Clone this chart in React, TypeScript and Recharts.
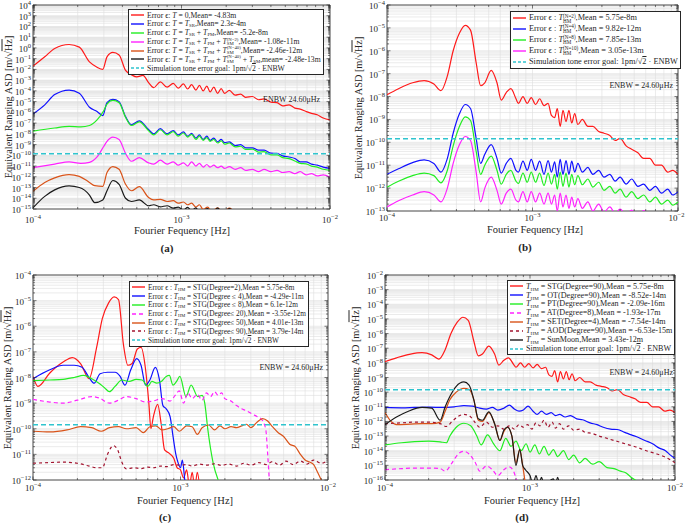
import React from "react";
import {
  LineChart,
  Line,
  XAxis,
  YAxis,
  CartesianGrid,
  ReferenceLine,
  ReferenceArea,
} from "recharts";

type Pt = [number, number];

const FONT = "'Liberation Serif', 'DejaVu Serif', serif";
const INK = "#262626";
const GOAL = 1.43e-10; // 1pm / sqrt(2 * ENBW)

const C_RED = "#ff1a1a";
const C_BLUE = "#1010ff";
const C_GREEN = "#22ee22";
const C_MAG = "#ff22ff";
const C_ORANGE = "#d95319";
const C_BROWN = "#a2142f";
const C_BLACK = "#1a1a1a";
const C_CYAN = "#2fc4ce";

// ---------- panel (a) ----------
const aRed: Pt[] = [
  [1.0e-4, 2e-2], [1.2e-4, 1.5e-1], [1.4e-4, 9e-1], [1.75e-4, 2.1], [2.05e-4, 1.2],
  [2.4e-4, 5e-2], [2.7e-4, 1.6e-2], [2.95e-4, 1.0e-2], [3.15e-4, 1.5e-1], [3.45e-4, 3.8e-1],
  [3.8e-4, 2.2e-1], [4.2e-4, 8e-3], [4.6e-4, 3.2e-3], [5.0e-4, 2.0e-3], [5.5e-4, 2.8e-3],
  [6.0e-4, 6e-4], [6.5e-4, 2.0e-4], [7.2e-4, 7e-4], [8.0e-4, 2.2e-4], [8.8e-4, 5.0e-4],
  [9.5e-4, 1.8e-4], [1.03e-3, 4.5e-4], [1.1e-3, 1.5e-4], [1.17e-3, 3.8e-4], [1.25e-3, 1.2e-4],
  [1.32e-3, 3.2e-4], [1.4e-3, 1.0e-4], [1.48e-3, 2.8e-4], [1.56e-3, 8e-5], [1.65e-3, 2.2e-4],
  [1.75e-3, 6e-5], [1.85e-3, 1.6e-4], [1.95e-3, 6e-5], [2.1e-3, 1.1e-4], [2.3e-3, 4e-5],
  [2.5e-3, 5e-5], [2.7e-3, 2.5e-5], [3.0e-3, 3e-5], [3.3e-3, 1.5e-5], [3.6e-3, 1.8e-5],
  [4.0e-3, 9e-6], [4.4e-3, 8e-6], [4.8e-3, 4e-6], [5.3e-3, 5e-6], [5.8e-3, 2.5e-6],
  [6.3e-3, 2e-6], [6.9e-3, 1.2e-6], [7.5e-3, 8e-7], [8.2e-3, 6e-7], [9.0e-3, 3e-7], [1.0e-2, 2e-7],
];
const aBlue: Pt[] = [
  [1.0e-4, 7e-7], [1.2e-4, 5e-6], [1.4e-4, 4.5e-5], [1.75e-4, 1.2e-4], [2.05e-4, 6e-5],
  [2.4e-4, 3e-6], [2.7e-4, 1.2e-6], [2.95e-4, 5e-7], [3.15e-4, 8e-6], [3.45e-4, 1.6e-5],
  [3.8e-4, 1.0e-5], [4.2e-4, 4e-7], [4.6e-4, 7e-8], [5.2e-4, 1.6e-7], [6.0e-4, 2.5e-8],
  [6.5e-4, 1e-8], [7.2e-4, 3e-8], [8.0e-4, 1e-8], [8.8e-4, 2e-8], [9.5e-4, 8e-9],
  [1.03e-3, 1.5e-8], [1.1e-3, 6e-9], [1.17e-3, 1.1e-8], [1.25e-3, 4e-9], [1.32e-3, 8e-9],
  [1.4e-3, 3e-9], [1.48e-3, 6e-9], [1.56e-3, 2.5e-9], [1.65e-3, 4e-9], [1.75e-3, 1.8e-9],
  [1.85e-3, 3e-9], [1.95e-3, 1.5e-9], [2.1e-3, 1.8e-9], [2.3e-3, 8e-10], [2.5e-3, 1e-9],
  [2.7e-3, 5e-10], [3.0e-3, 5e-10], [3.3e-3, 3e-10], [3.6e-3, 3e-10], [4.0e-3, 1.6e-10],
  [4.4e-3, 1.5e-10], [4.8e-3, 9e-11], [5.3e-3, 7e-11], [5.8e-3, 5e-11], [6.3e-3, 2.5e-11],
  [6.9e-3, 2.5e-11], [7.5e-3, 1.5e-11], [8.2e-3, 1.2e-11], [9.0e-3, 8e-12], [1.0e-2, 6e-12],
];
const aGreen: Pt[] = [
  [1.0e-4, 1.8e-8], [1.4e-4, 3.5e-8], [1.75e-4, 5e-8], [2.1e-4, 4.5e-8], [2.4e-4, 6e-8],
  [2.7e-4, 2e-7], [3.0e-4, 1.5e-6], [3.15e-4, 6e-6], [3.45e-4, 1.3e-5], [3.8e-4, 8e-6],
  [4.2e-4, 3.5e-7], [4.6e-4, 6e-8], [5.2e-4, 1.3e-7], [6.0e-4, 2e-8], [6.5e-4, 8e-9],
  [7.2e-4, 2.4e-8], [8.0e-4, 8e-9], [8.8e-4, 1.6e-8], [9.5e-4, 6e-9], [1.03e-3, 1.2e-8],
  [1.1e-3, 5e-9], [1.17e-3, 9e-9], [1.25e-3, 3e-9], [1.32e-3, 6e-9], [1.4e-3, 2.5e-9],
  [1.48e-3, 4.5e-9], [1.56e-3, 2e-9], [1.65e-3, 3e-9], [1.75e-3, 1.4e-9], [1.85e-3, 2.2e-9],
  [1.95e-3, 1.1e-9], [2.1e-3, 1.4e-9], [2.3e-3, 6e-10], [2.5e-3, 7e-10], [2.7e-3, 3.5e-10],
  [3.0e-3, 3.8e-10], [3.3e-3, 2e-10], [3.6e-3, 2.2e-10], [4.0e-3, 1.1e-10], [4.4e-3, 1.1e-10],
  [4.8e-3, 6e-11], [5.3e-3, 5e-11], [5.8e-3, 3e-11], [6.3e-3, 1.8e-11], [6.9e-3, 1.6e-11],
  [7.5e-3, 1e-11], [8.2e-3, 8e-12], [9.0e-3, 5e-12], [1.0e-2, 4e-12],
];
const aMagenta: Pt[] = [
  [1.0e-4, 7e-12], [1.4e-4, 1.5e-11], [1.75e-4, 2.5e-11], [2.1e-4, 1.8e-11], [2.4e-4, 2.2e-11],
  [2.7e-4, 7e-11], [3.0e-4, 7e-10], [3.15e-4, 2e-9], [3.45e-4, 5e-9], [3.8e-4, 3e-9],
  [4.2e-4, 1.5e-10], [4.6e-4, 2.8e-11], [5.2e-4, 6e-11], [6.0e-4, 2e-11], [6.5e-4, 1.5e-11],
  [7.2e-4, 3.5e-11], [8.0e-4, 1.5e-11], [8.8e-4, 2.5e-11], [9.5e-4, 1.2e-11], [1.03e-3, 2e-11],
  [1.1e-3, 1e-11], [1.17e-3, 2.5e-11], [1.25e-3, 1e-11], [1.32e-3, 1.8e-11], [1.4e-3, 8e-12],
  [1.48e-3, 1.4e-11], [1.56e-3, 8e-12], [1.65e-3, 1.2e-11], [1.75e-3, 7e-12], [1.85e-3, 1e-11],
  [1.95e-3, 6e-12], [2.1e-3, 9e-12], [2.3e-3, 5e-12], [2.5e-3, 7e-12], [2.7e-3, 4e-12],
  [3.0e-3, 5e-12], [3.3e-3, 3e-12], [3.6e-3, 5e-12], [4.0e-3, 3e-12], [4.4e-3, 4e-12],
  [4.8e-3, 2.5e-12], [5.3e-3, 3e-12], [5.8e-3, 2e-12], [6.3e-3, 3e-12], [6.9e-3, 1.5e-12],
  [7.5e-3, 2e-12], [8.2e-3, 1.2e-12], [9.0e-3, 1.5e-12], [1.0e-2, 9e-13],
];
const aOrange: Pt[] = [
  [1.0e-4, 4.5e-14], [1.2e-4, 3e-13], [1.4e-4, 8e-13], [1.75e-4, 1.6e-12], [2.05e-4, 1.1e-12],
  [2.4e-4, 3e-13], [2.6e-4, 1.5e-13], [2.95e-4, 1.3e-13], [3.15e-4, 2.5e-12], [3.45e-4, 9e-12],
  [3.8e-4, 5e-12], [4.2e-4, 2e-13], [4.6e-4, 5e-14], [5.2e-4, 1.2e-13], [6.0e-4, 1.2e-14],
  [6.5e-4, 7e-15], [7.2e-4, 8e-15], [8.0e-4, 5e-15], [8.8e-4, 6e-15], [9.5e-4, 3.5e-15],
  [1.03e-3, 4.5e-15], [1.1e-3, 2.5e-15], [1.17e-3, 3.5e-15], [1.25e-3, 1.5e-15], [1.32e-3, 2.5e-15],
  [1.4e-3, 9e-16], [1.5e-3, 1.5e-15], [1.6e-3, 6e-16], [1.75e-3, 1.3e-15], [1.9e-3, 5e-16],
  [2.1e-3, 1.2e-15], [2.3e-3, 4e-16],
];
const aBlack: Pt[] = [
  [1.0e-4, 1.3e-15], [1.2e-4, 1.5e-14], [1.4e-4, 6e-14], [1.75e-4, 1.4e-13], [2.05e-4, 1e-13],
  [2.4e-4, 2e-14], [2.6e-4, 4e-15], [2.95e-4, 7e-15], [3.15e-4, 5e-14], [3.45e-4, 4.5e-13],
  [3.8e-4, 2e-13], [4.2e-4, 1e-14], [4.6e-4, 5e-15], [5.2e-4, 7e-15], [6.0e-4, 2e-15],
  [6.5e-4, 2.5e-15], [7.2e-4, 1.6e-15], [8.0e-4, 2e-15], [8.8e-4, 1.2e-15], [9.5e-4, 1.5e-15],
  [1.03e-3, 8e-16], [1.1e-3, 1.4e-15], [1.17e-3, 7e-16], [1.25e-3, 1.3e-15], [1.32e-3, 5e-16],
  [1.5e-3, 1.1e-15], [1.6e-3, 4e-16], [1.75e-3, 1.2e-15], [1.9e-3, 4e-16], [2.1e-3, 1.1e-15],
  [2.3e-3, 4e-16],
];

// ---------- panel (b) ----------
const hmRed: Pt[] = [
  [1.0e-4, 1.2e-8], [1.2e-4, 2.2e-8], [1.5e-4, 4e-8], [1.8e-4, 5e-8], [2.1e-4, 3.5e-8],
  [2.35e-4, 1.8e-8], [2.6e-4, 8e-8], [2.85e-4, 1e-6], [3.15e-4, 6e-6], [3.45e-4, 1.3e-5],
  [3.75e-4, 8e-6], [4.1e-4, 3e-7], [4.4e-4, 3e-8], [4.7e-4, 4e-8], [5.2e-4, 1.4e-7],
  [5.7e-4, 4e-8], [6.1e-4, 7e-9], [6.6e-4, 1.5e-8], [7.1e-4, 2.2e-8], [7.7e-4, 8e-9],
  [8.0e-4, 5e-9], [8.6e-4, 1e-8], [9.2e-4, 5e-9], [9.8e-4, 9e-9], [1.05e-3, 4.5e-9],
  [1.12e-3, 8e-9], [1.2e-3, 4e-9], [1.28e-3, 5e-9], [1.35e-3, 1.5e-9], [1.42e-3, 1.2e-9],
  [1.48e-3, 3e-9], [1.55e-3, 5e-10], [1.62e-3, 2.5e-9], [1.7e-3, 8e-10], [1.78e-3, 2.5e-9],
  [1.86e-3, 7e-10], [1.95e-3, 1.8e-9], [2.05e-3, 6e-10], [2.2e-3, 1e-9], [2.4e-3, 5e-10],
  [2.6e-3, 5e-10], [2.85e-3, 3e-10], [3.1e-3, 2.5e-10], [3.4e-3, 2e-10], [3.7e-3, 1.2e-10],
  [4.0e-3, 1.5e-10], [4.4e-3, 7e-11], [4.8e-3, 5e-11], [5.3e-3, 3.5e-11], [5.8e-3, 2e-11],
  [6.4e-3, 2e-11], [7.0e-3, 1e-11], [7.7e-3, 1e-11], [8.5e-3, 5e-12], [9.2e-3, 6e-12],
  [1.0e-2, 4e-12],
];
const bBlue: Pt[] = [
  [1.0e-4, 4e-12], [1.2e-4, 7e-12], [1.5e-4, 1.3e-11], [1.8e-4, 1.7e-11], [2.1e-4, 1.2e-11],
  [2.35e-4, 5e-12], [2.6e-4, 2e-11], [2.85e-4, 2.5e-10], [3.15e-4, 1.8e-9], [3.45e-4, 4.5e-9],
  [3.75e-4, 3e-9], [4.1e-4, 1.5e-10], [4.4e-4, 1.2e-11], [4.7e-4, 3e-11], [5.2e-4, 8e-11],
  [5.7e-4, 2e-11], [6.1e-4, 4.5e-12], [6.6e-4, 1.2e-11], [7.1e-4, 2e-11], [7.7e-4, 6e-12],
  [8.0e-4, 5e-12], [8.6e-4, 1.5e-11], [9.2e-4, 6e-12], [9.8e-4, 1.8e-11], [1.05e-3, 6e-12],
  [1.12e-3, 1.5e-11], [1.2e-3, 4e-12], [1.28e-3, 1.6e-11], [1.35e-3, 5e-12], [1.42e-3, 1.4e-11],
  [1.48e-3, 3e-12], [1.55e-3, 1.8e-11], [1.62e-3, 4e-12], [1.7e-3, 1.6e-11], [1.78e-3, 4e-12],
  [1.86e-3, 1.5e-11], [1.95e-3, 5e-12], [2.05e-3, 1.2e-11], [2.2e-3, 5e-12], [2.4e-3, 8e-12],
  [2.6e-3, 4e-12], [2.85e-3, 6e-12], [3.1e-3, 3e-12], [3.4e-3, 4e-12], [3.7e-3, 2e-12],
  [4.0e-3, 3e-12], [4.4e-3, 1.5e-12], [4.8e-3, 2.5e-12], [5.3e-3, 1.2e-12], [5.8e-3, 1.5e-12],
  [6.4e-3, 8e-13], [7.0e-3, 1.2e-12], [7.7e-3, 6e-13], [8.5e-3, 9e-13], [9.2e-3, 5e-13],
  [1.0e-2, 7e-13],
];
const bGreen: Pt[] = [
  [1.0e-4, 1.1e-12], [1.2e-4, 2e-12], [1.5e-4, 3.5e-12], [1.8e-4, 4.5e-12], [2.1e-4, 3.5e-12],
  [2.35e-4, 1.7e-12], [2.6e-4, 6e-12], [2.85e-4, 7e-11], [3.15e-4, 5e-10], [3.45e-4, 1.3e-9],
  [3.75e-4, 9e-10], [4.1e-4, 4e-11], [4.4e-4, 4e-12], [4.7e-4, 1e-11], [5.2e-4, 2.5e-11],
  [5.7e-4, 6e-12], [6.1e-4, 1.5e-12], [6.6e-4, 4e-12], [7.1e-4, 6e-12], [7.7e-4, 2e-12],
  [8.0e-4, 1.6e-12], [8.6e-4, 4.5e-12], [9.2e-4, 1.8e-12], [9.8e-4, 5e-12], [1.05e-3, 1.8e-12],
  [1.12e-3, 4.5e-12], [1.2e-3, 1.3e-12], [1.28e-3, 4.5e-12], [1.35e-3, 1.5e-12], [1.42e-3, 4e-12],
  [1.48e-3, 9e-13], [1.55e-3, 5e-12], [1.62e-3, 1.2e-12], [1.7e-3, 4.5e-12], [1.78e-3, 1.1e-12],
  [1.86e-3, 4e-12], [1.95e-3, 1.4e-12], [2.05e-3, 3.5e-12], [2.2e-3, 1.4e-12], [2.4e-3, 2.5e-12],
  [2.6e-3, 1.1e-12], [2.85e-3, 1.8e-12], [3.1e-3, 8e-13], [3.4e-3, 1.2e-12], [3.7e-3, 6e-13],
  [4.0e-3, 9e-13], [4.4e-3, 4e-13], [4.8e-3, 7e-13], [5.3e-3, 3.5e-13], [5.8e-3, 5e-13],
  [6.4e-3, 2.5e-13], [7.0e-3, 4e-13], [7.7e-3, 2e-13], [8.5e-3, 3e-13], [9.2e-3, 1.8e-13],
  [1.0e-2, 2.5e-13],
];
const bMagenta: Pt[] = [
  [1.0e-4, 1.5e-13], [1.2e-4, 2.8e-13], [1.5e-4, 5e-13], [1.8e-4, 7e-13], [2.1e-4, 5e-13],
  [2.35e-4, 2.5e-13], [2.6e-4, 1e-12], [2.85e-4, 1.2e-11], [3.15e-4, 8e-11], [3.45e-4, 1.8e-10],
  [3.75e-4, 1.2e-10], [4.1e-4, 5e-12], [4.4e-4, 2.5e-13], [4.7e-4, 1e-12], [5.2e-4, 3e-12],
  [5.7e-4, 8e-13], [6.1e-4, 2e-13], [6.6e-4, 6e-13], [7.1e-4, 9e-13], [7.7e-4, 3e-13],
  [8.0e-4, 2.5e-13], [8.6e-4, 7e-13], [9.2e-4, 2.5e-13], [9.8e-4, 7e-13], [1.05e-3, 2.5e-13],
  [1.12e-3, 6e-13], [1.2e-3, 2e-13], [1.28e-3, 6e-13], [1.35e-3, 2e-13], [1.42e-3, 5e-13],
  [1.48e-3, 1e-13], [1.55e-3, 6e-13], [1.62e-3, 1.5e-13], [1.7e-3, 5e-13], [1.78e-3, 1.3e-13],
  [1.86e-3, 4e-13], [1.95e-3, 1.5e-13], [2.05e-3, 3.5e-13], [2.2e-3, 1.3e-13], [2.4e-3, 2.5e-13],
  [2.6e-3, 1e-13], [2.85e-3, 2e-13], [3.1e-3, 9e-14], [3.4e-3, 1.5e-13], [3.7e-3, 8e-14],
  [4.0e-3, 1.2e-13], [4.4e-3, 7e-14], [4.8e-3, 1.1e-13], [5.3e-3, 6e-14], [5.8e-3, 1.05e-13],
  [6.4e-3, 5e-14],
];

// ---------- panel (c) ----------
const cRed: Pt[] = [
  [1.0e-4, 1.1e-8], [1.08e-4, 4.5e-9], [1.3e-4, 1.5e-8], [1.6e-4, 4e-8], [1.85e-4, 6e-8],
  [2.1e-4, 3.5e-8], [2.4e-4, 9e-9], [2.7e-4, 1.5e-7], [2.95e-4, 2e-6], [3.25e-4, 8e-6],
  [3.55e-4, 1.4e-5], [3.8e-4, 1.1e-5], [4.1e-4, 2e-7], [4.4e-4, 3e-8], [4.7e-4, 3.5e-8],
  [5.1e-4, 1.3e-7], [5.4e-4, 1.5e-7], [5.8e-4, 2e-8], [6.1e-4, 1e-9], [6.3e-4, 1e-10],
  [6.55e-4, 3e-10], [7.0e-4, 9e-10], [7.4e-4, 1.5e-10], [7.8e-4, 1.5e-11], [8.4e-4, 1.1e-11],
  [9.0e-4, 7e-12], [9.5e-4, 3e-12], [1.0e-3, 2.5e-12], [1.05e-3, 1.2e-12], [1.1e-3, 2.5e-12],
  [1.15e-3, 6e-13], [1.2e-3, 2e-12], [1.25e-3, 5e-13], [1.3e-3, 2e-12], [1.35e-3, 5e-13],
];
const cBlue: Pt[] = [
  [1.0e-4, 9e-9], [1.3e-4, 2e-8], [1.6e-4, 3e-8], [1.9e-4, 3e-8], [2.15e-4, 2.5e-8],
  [2.4e-4, 1e-8], [2.6e-4, 6e-9], [2.85e-4, 1.4e-8], [3.2e-4, 1.6e-8], [3.6e-4, 1.6e-8],
  [3.9e-4, 1.1e-8], [4.2e-4, 5e-9], [4.6e-4, 2e-8], [5.05e-4, 5.5e-8], [5.4e-4, 3e-8],
  [5.8e-4, 5e-9], [6.2e-4, 8e-9], [6.75e-4, 2.5e-8], [7.2e-4, 8e-9], [7.6e-4, 8e-10],
  [8.0e-4, 6e-10], [8.5e-4, 3e-10], [8.9e-4, 5e-11], [9.3e-4, 1e-11], [9.6e-4, 5e-12],
  [1.0e-3, 3e-12], [1.03e-3, 6e-12], [1.07e-3, 1e-12], [1.1e-3, 5e-13],
];
const cGreen: Pt[] = [
  [1.0e-4, 7.5e-9], [1.3e-4, 8e-9], [1.6e-4, 8.5e-9], [1.9e-4, 1e-8], [2.2e-4, 1.2e-8],
  [2.5e-4, 9e-9], [2.8e-4, 6e-9], [3.05e-4, 4e-9], [3.3e-4, 2.8e-9], [3.6e-4, 4.5e-9],
  [4.0e-4, 8e-9], [4.5e-4, 7e-9], [5.0e-4, 8.5e-9], [5.5e-4, 8e-9], [6.0e-4, 4.5e-9],
  [6.4e-4, 7e-9], [6.9e-4, 6e-9], [7.4e-4, 7e-9], [8.0e-4, 1.1e-8], [8.4e-4, 1.2e-8],
  [8.9e-4, 5e-9], [9.4e-4, 7e-9], [9.9e-4, 1.1e-8], [1.09e-3, 1.8e-9], [1.18e-3, 5e-9],
  [1.31e-3, 1.8e-9], [1.4e-3, 2e-9], [1.46e-3, 1e-9], [1.53e-3, 1e-10], [1.66e-3, 5e-12],
  [1.8e-3, 1e-12],
];
const cMagenta: Pt[] = [
  [1.0e-4, 1.4e-9], [1.3e-4, 1.1e-9], [1.6e-4, 1e-9], [2.0e-4, 1.3e-9], [2.5e-4, 1.8e-9],
  [2.8e-4, 1.6e-9], [3.3e-4, 1e-9], [3.8e-4, 1.3e-9], [4.3e-4, 1.8e-9], [5.0e-4, 1.5e-9],
  [5.8e-4, 1.1e-9], [6.5e-4, 1.2e-9], [7.5e-4, 1.5e-9], [8.5e-4, 1.2e-9], [9.2e-4, 2e-9],
  [9.8e-4, 3e-9], [1.05e-3, 1e-9], [1.12e-3, 2.5e-9], [1.2e-3, 1.5e-9], [1.3e-3, 2.2e-9],
  [1.4e-3, 1.3e-9], [1.5e-3, 2.5e-9], [1.6e-3, 1.8e-9], [1.7e-3, 2.8e-9], [1.8e-3, 2e-9],
  [1.9e-3, 2.5e-9], [2.0e-3, 1.5e-9], [2.2e-3, 1.2e-9], [2.4e-3, 8e-10], [2.6e-3, 6e-10],
  [2.8e-3, 5e-10], [3.0e-3, 4e-10], [3.3e-3, 3e-10], [3.5e-3, 2.5e-10], [3.7e-3, 1.5e-10],
  [3.8e-3, 8e-11], [3.9e-3, 1e-11], [4.0e-3, 1e-12],
];
const cOrange: Pt[] = [
  [1.0e-4, 8e-11], [1.3e-4, 7.5e-11], [1.7e-4, 9e-11], [2.1e-4, 1.2e-10], [2.5e-4, 1.1e-10],
  [2.9e-4, 8e-11], [3.3e-4, 1.1e-10], [3.8e-4, 1.2e-10], [4.3e-4, 1e-10], [5.0e-4, 1.1e-10],
  [5.6e-4, 7e-11], [6.2e-4, 1.2e-10], [6.8e-4, 1.3e-10], [7.5e-4, 9e-11], [8.2e-4, 1e-10],
  [9.0e-4, 1.2e-10], [9.8e-4, 8e-11], [1.1e-3, 1.3e-10], [1.2e-3, 1.2e-10], [1.3e-3, 6e-11],
  [1.4e-3, 1.1e-10], [1.55e-3, 1.4e-10], [1.7e-3, 9e-11], [1.85e-3, 1.3e-10], [2.0e-3, 1e-10],
  [2.2e-3, 1.2e-10], [2.4e-3, 1.1e-10], [2.6e-3, 1.3e-10], [2.8e-3, 1.5e-10], [3.0e-3, 1.1e-10],
  [3.3e-3, 1.8e-10], [3.6e-3, 2.5e-10], [3.9e-3, 2e-10], [4.2e-3, 1.2e-10], [4.6e-3, 7e-11],
  [5.0e-3, 5e-11], [5.5e-3, 2.5e-11], [6.0e-3, 2e-11], [6.5e-3, 1e-11], [7.0e-3, 6e-12],
  [7.5e-3, 5e-12], [8.0e-3, 4e-12], [8.5e-3, 2e-12], [9.0e-3, 1e-12],
];
const cBrown: Pt[] = [
  [1.0e-4, 4.5e-12], [1.3e-4, 4.8e-12], [1.6e-4, 5e-12], [2.0e-4, 4.5e-12], [2.4e-4, 3.5e-12],
  [2.7e-4, 3e-12], [2.95e-4, 3e-12], [3.2e-4, 1e-11], [3.5e-4, 2.2e-11], [3.75e-4, 1.5e-11],
  [4.0e-4, 5e-12], [4.3e-4, 2.7e-12], [4.8e-4, 3e-12], [5.4e-4, 2.8e-12], [6.0e-4, 3.2e-12],
  [6.6e-4, 3e-12], [7.3e-4, 3.5e-12], [8.0e-4, 3.3e-12], [9.0e-4, 4e-12], [1.0e-3, 3.8e-12],
  [1.1e-3, 4e-12], [1.2e-3, 3.5e-12], [1.35e-3, 4.2e-12], [1.5e-3, 3.8e-12], [1.7e-3, 4.3e-12],
  [1.9e-3, 3.7e-12], [2.1e-3, 4.2e-12], [2.4e-3, 3.5e-12], [2.7e-3, 4.5e-12], [3.0e-3, 3.8e-12],
  [3.4e-3, 4.8e-12], [3.8e-3, 4e-12], [4.2e-3, 5.2e-12], [4.7e-3, 3.8e-12], [5.2e-3, 5.5e-12],
  [5.8e-3, 4e-12], [6.5e-3, 5.5e-12], [7.2e-3, 4.2e-12], [8.0e-3, 6e-12], [9.0e-3, 4.5e-12],
  [1.0e-2, 6e-12],
];

// ---------- panel (d) ----------
const dBlue: Pt[] = [
  [1.0e-4, 9e-12], [1.3e-4, 8.5e-12], [1.6e-4, 9e-12], [2.0e-4, 9.5e-12], [2.5e-4, 9e-12],
  [3.0e-4, 1e-11], [3.5e-4, 1.2e-11], [4.0e-4, 1.1e-11], [4.5e-4, 8e-12], [5.0e-4, 7e-12],
  [5.5e-4, 9e-12], [6.0e-4, 6e-12], [6.6e-4, 8e-12], [7.2e-4, 1.3e-11], [7.8e-4, 7e-12],
  [8.4e-4, 5e-12], [9.0e-4, 6e-12], [9.7e-4, 1.1e-11], [1.05e-3, 5e-12], [1.12e-3, 3e-12],
  [1.2e-3, 5e-12], [1.3e-3, 3e-12], [1.4e-3, 4e-12], [1.5e-3, 2.5e-12], [1.6e-3, 3e-12],
  [1.75e-3, 2e-12], [1.9e-3, 2.5e-12], [2.1e-3, 1.5e-12], [2.3e-3, 1.3e-12], [2.6e-3, 8e-13],
  [2.9e-3, 6e-13], [3.2e-3, 4e-13], [3.6e-3, 3e-13], [4.0e-3, 2.8e-13], [4.5e-3, 1.8e-13],
  [5.0e-3, 1.2e-13], [5.6e-3, 8e-14], [6.2e-3, 5e-14], [7.0e-3, 3e-14], [7.8e-3, 1.5e-14],
  [8.6e-3, 1e-14], [9.3e-3, 5e-15], [1.0e-2, 3e-15],
];
const dGreen: Pt[] = [
  [1.0e-4, 2.5e-14], [1.3e-4, 3.5e-14], [1.6e-4, 4.2e-14], [2.0e-4, 4.5e-14], [2.4e-4, 4e-14],
  [2.65e-4, 3.5e-14], [2.8e-4, 1e-13], [3.1e-4, 4e-13], [3.5e-4, 7.5e-13], [3.9e-4, 5e-13],
  [4.3e-4, 1e-13], [4.6e-4, 2.5e-14], [5.1e-4, 1.2e-13], [5.6e-4, 3e-14], [6.2e-4, 1e-14],
  [6.8e-4, 7e-14], [7.4e-4, 2e-14], [8.0e-4, 4.5e-14], [8.7e-4, 1e-14], [9.4e-4, 3e-14],
  [1.0e-3, 8e-15], [1.08e-3, 2.5e-14], [1.16e-3, 6e-15], [1.25e-3, 2e-14], [1.35e-3, 5e-15],
  [1.45e-3, 1.2e-14], [1.55e-3, 4e-15], [1.7e-3, 1e-14], [1.85e-3, 2.5e-15], [2.0e-3, 5e-15],
  [2.2e-3, 1.5e-15], [2.4e-3, 3e-15], [2.7e-3, 1.2e-15], [3.0e-3, 1.8e-15], [3.4e-3, 7e-16],
  [3.8e-3, 6e-16], [4.2e-3, 4e-16], [4.6e-3, 3e-16], [5.0e-3, 1.5e-16], [5.5e-3, 8e-17],
];
const dMagenta: Pt[] = [
  [1.0e-4, 5e-16], [1.3e-4, 6e-16], [1.6e-4, 6.5e-16], [2.0e-4, 6.5e-16], [2.4e-4, 6e-16],
  [2.6e-4, 4e-16], [2.9e-4, 1.5e-15], [3.2e-4, 6e-15], [3.5e-4, 9e-15], [3.8e-4, 6e-15],
  [4.2e-4, 1.5e-15], [4.5e-4, 4e-16], [5.0e-4, 9e-16], [5.5e-4, 5e-16], [6.0e-4, 2e-16],
  [6.6e-4, 5e-16], [7.2e-4, 8e-16], [7.7e-4, 4e-16], [8.1e-4, 1e-16], [8.5e-4, 5e-17],
];
const dOrange: Pt[] = [
  [1.0e-4, 4e-12], [1.1e-4, 1e-12], [1.2e-4, 6e-13], [1.5e-4, 6.5e-13], [1.8e-4, 7e-13],
  [2.1e-4, 7e-13], [2.4e-4, 9e-13], [2.6e-4, 5e-12], [2.8e-4, 3e-11], [3.1e-4, 1e-10],
  [3.5e-4, 1.8e-10], [3.8e-4, 1.5e-10], [4.1e-4, 3e-11], [4.4e-4, 1.2e-12], [4.7e-4, 1e-12],
  [5.2e-4, 4e-12], [5.7e-4, 7e-13], [6.2e-4, 5e-14], [6.6e-4, 2e-13], [7.0e-4, 4e-13],
  [7.5e-4, 1e-13], [8.0e-4, 1.5e-15], [8.5e-4, 1.2e-14], [8.9e-4, 1e-15], [9.3e-4, 5e-17],
];
const dBrown: Pt[] = [
  [1.0e-4, 7e-13], [1.3e-4, 8e-13], [1.6e-4, 9e-13], [2.0e-4, 9e-13], [2.4e-4, 7e-13],
  [2.65e-4, 4.5e-13], [2.9e-4, 1e-12], [3.2e-4, 2.2e-12], [3.5e-4, 3e-12], [3.8e-4, 2.5e-12],
  [4.2e-4, 8e-13], [4.5e-4, 4e-13], [5.0e-4, 9e-13], [5.5e-4, 4e-13], [6.0e-4, 5e-13],
  [6.6e-4, 3e-13], [7.2e-4, 5e-13], [7.8e-4, 3e-13], [8.4e-4, 6e-13], [9.0e-4, 4e-13],
  [9.6e-4, 6e-13], [1.03e-3, 3e-13], [1.1e-3, 8e-13], [1.17e-3, 5e-13], [1.25e-3, 1.2e-12],
  [1.33e-3, 4e-13], [1.42e-3, 9e-13], [1.5e-3, 3.5e-13], [1.6e-3, 7e-13], [1.7e-3, 3e-13],
  [1.85e-3, 5e-13], [2.0e-3, 2.5e-13], [2.2e-3, 3e-13], [2.4e-3, 1.8e-13], [2.7e-3, 1.5e-13],
  [3.0e-3, 1e-13], [3.4e-3, 7e-14], [3.8e-3, 5e-14], [4.3e-3, 3.5e-14], [4.8e-3, 2.5e-14],
  [5.4e-3, 1.8e-14], [6.0e-3, 1.2e-14], [6.8e-3, 8e-15], [7.5e-3, 6e-15], [8.4e-3, 4e-15],
  [9.2e-3, 2.5e-15], [1.0e-2, 1.5e-15],
];
const dBlack: Pt[] = [
  [1.0e-4, 6e-13], [1.2e-4, 2e-12], [1.45e-4, 5e-12], [1.8e-4, 9e-12], [2.1e-4, 8e-12],
  [2.4e-4, 1.2e-12], [2.6e-4, 1e-11], [2.8e-4, 5e-11], [3.1e-4, 2.5e-10], [3.5e-4, 5e-10],
  [3.8e-4, 3e-10], [4.1e-4, 3e-11], [4.4e-4, 1.5e-12], [4.7e-4, 1.2e-12], [5.2e-4, 4.5e-12],
  [5.7e-4, 7e-13], [6.2e-4, 5e-14], [6.6e-4, 2.5e-13], [7.0e-4, 4e-13], [7.5e-4, 1e-13],
  [8.0e-4, 1e-15], [8.5e-4, 1.2e-14], [8.9e-4, 1e-15], [9.3e-4, 5e-16], [1.0e-3, 2e-16],
  [1.05e-3, 5e-17], [1.1e-3, 2e-16], [1.15e-3, 5e-17], [1.2e-3, 1.5e-16], [1.25e-3, 5e-17],
  [1.45e-3, 1.2e-16], [1.5e-3, 5e-17], [1.55e-3, 1.5e-16], [1.6e-3, 5e-17],
];

// ---------- helpers ----------
function logTicks(lo: number, hi: number): number[] {
  const out: number[] = [];
  for (let k = lo; k < hi; k++) {
    for (let m = 1; m <= 9; m++) out.push(Number((m * Math.pow(10, k)).toPrecision(10)));
  }
  out.push(Math.pow(10, hi));
  return out;
}

function decadeOf(v: number): { e: number; major: boolean } {
  const l = Math.log10(v);
  const e = Math.round(l);
  return { e, major: Math.abs(l - e) < 1e-6 };
}

const expText = (e: number) => (e < 0 ? `\u2212${-e}` : `${e}`);

function XTick(props: any) {
  const { x, y, payload, plotH, labelDy, maxX } = props;
  const { e, major } = decadeOf(payload.value);
  const len = major ? 3.5 : 2;
  const lx = Math.min(x, maxX - 8.5);
  return (
    <g>
      <line x1={x} x2={x} y1={y} y2={y - len} stroke={INK} strokeWidth={0.6} />
      <line x1={x} x2={x} y1={y - plotH} y2={y - plotH + len} stroke={INK} strokeWidth={0.6} />
      {major && (
        <text x={lx} y={y + labelDy} textAnchor="middle" fontFamily={FONT} fontSize={9} fill={INK}>
          <tspan>10</tspan>
          <tspan dy={-4} fontSize={6.5}>{expText(e)}</tspan>
        </text>
      )}
    </g>
  );
}

function YTick(props: any) {
  const { x, y, payload, plotW } = props;
  const { e, major } = decadeOf(payload.value);
  const len = major ? 3.5 : 2;
  return (
    <g>
      <line x1={x} x2={x + len} y1={y} y2={y} stroke={INK} strokeWidth={0.6} />
      <line x1={x + plotW} x2={x + plotW - len} y1={y} y2={y} stroke={INK} strokeWidth={0.6} />
      {major && (
        <text x={x - 2} y={y + 4} textAnchor="end" fontFamily={FONT} fontSize={9} fill={INK}>
          <tspan>10</tspan>
          <tspan dy={-4} fontSize={6.5}>{expText(e)}</tspan>
        </text>
      )}
    </g>
  );
}

interface Series {
  key: string;
  color: string;
  data: Pt[];
  dash?: string;
  label: React.ReactNode;
}

interface PanelProps {
  left: number;
  top: number;
  width: number;
  height: number;
  plot: { l: number; t: number; r: number; b: number };
  yExp: [number, number];
  labelDy: number;
  series: Series[];
}

function Panel({ left, top, width, height, plot, yExp, labelDy, series }: PanelProps) {
  const plotW = plot.r - plot.l;
  const plotH = plot.b - plot.t;
  const yMin = Math.pow(10, yExp[0]);
  const yMax = Math.pow(10, yExp[1]);
  return (
    <div style={{ position: "absolute", left, top }}>
      <LineChart
        width={width}
        height={height}
        style={{ overflow: "visible" }}
        margin={{ top: plot.t, right: width - plot.r, left: 0, bottom: 0 }}
      >
        <CartesianGrid stroke="#dedede" strokeWidth={0.6} />
        <XAxis
          dataKey="f"
          type="number"
          scale="log"
          domain={[1e-4, 1e-2]}
          allowDataOverflow
          ticks={logTicks(-4, -2)}
          interval={0}
          tickSize={0}
          tickMargin={0}
          axisLine={false}
          tickLine={false}
          height={height - plot.b}
          tick={(p: any) => <XTick {...p} plotH={plotH} labelDy={labelDy} maxX={width} />}
        />
        <YAxis
          type="number"
          scale="log"
          domain={[yMin, yMax]}
          allowDataOverflow
          ticks={logTicks(yExp[0], yExp[1])}
          interval={0}
          tickSize={0}
          tickMargin={0}
          axisLine={false}
          tickLine={false}
          width={plot.l}
          tick={(p: any) => <YTick {...p} plotW={plotW} />}
        />
        {series.map((s) => (
          <Line
            key={s.key}
            data={s.data.map(([f, v]) => ({ f, v }))}
            dataKey="v"
            type="monotone"
            stroke={s.color}
            strokeWidth={1.2}
            strokeDasharray={s.dash}
            dot={false}
            activeDot={false}
            isAnimationActive={false}
          />
        ))}
        <ReferenceLine y={GOAL} stroke={C_CYAN} strokeDasharray="5 3" strokeWidth={1.5} />
        <ReferenceArea
          x1={1e-4}
          x2={1e-2}
          y1={yMin}
          y2={yMax}
          fill="none"
          fillOpacity={0}
          stroke={INK}
          strokeWidth={0.8}
          ifOverflow="visible"
        />
      </LineChart>
    </div>
  );
}

// ---------- text helpers ----------
function TT({ sub, sup }: { sub?: string; sup?: string }) {
  return (
    <span style={{ whiteSpace: "nowrap" }}>
      <i>T</i>
      {sub && !sup && (
        <span style={{ fontSize: "0.62em", verticalAlign: "-0.3em" }}>{sub}</span>
      )}
      {sup && (
        <span
          style={{
            display: "inline-grid",
            fontSize: "0.62em",
            lineHeight: 0.95,
            verticalAlign: "middle",
            textAlign: "left",
          }}
        >
          <span>{sup}</span>
          <span>{sub}</span>
        </span>
      )}
    </span>
  );
}

const GoalLabel = () => (
  <span>
    Simulation tone error goal: 1pm/√<span style={{ textDecoration: "overline" }}>2</span> · ENBW
  </span>
);

const ErrE = () => <span>Error ϵ: </span>;
const ErrE2 = () => <span>Error ϵ : </span>;

function LegendBox({
  left,
  top,
  rowH,
  fontSize,
  rows,
}: {
  left: number;
  top: number;
  rowH: number;
  fontSize: number;
  rows: { color: string; dash?: string; label: React.ReactNode }[];
}) {
  return (
    <div
      style={{
        position: "absolute",
        left,
        top,
        background: "#fff",
        border: `1px solid ${INK}`,
        padding: "1px 2px 1px 1px",
        fontFamily: FONT,
        fontSize,
        color: INK,
        whiteSpace: "nowrap",
      }}
    >
      {rows.map((r, i) => (
        <div key={i} style={{ height: rowH, display: "flex", alignItems: "center" }}>
          <svg width={15} height={6} style={{ marginRight: 2, flex: "none" }}>
            <line x1={1} x2={14} y1={3} y2={3} stroke={r.color} strokeWidth={1.4} strokeDasharray={r.dash} />
          </svg>
          <span>{r.label}</span>
        </div>
      ))}
    </div>
  );
}

function Txt({ x, y, anchor, size, bold, children }: any) {
  const tx = anchor === "middle" ? "-50%" : anchor === "end" ? "-100%" : "0";
  return (
    <div
      style={{
        position: "absolute",
        left: x,
        top: y,
        transform: `translate(${tx}, -50%)`,
        fontFamily: FONT,
        fontSize: size,
        fontWeight: bold ? "bold" : "normal",
        color: INK,
        whiteSpace: "nowrap",
      }}
    >
      {children}
    </div>
  );
}

function YTitle({ x, y }: { x: number; y: number }) {
  return (
    <div
      style={{
        position: "absolute",
        left: x,
        top: y,
        transform: "translate(-50%, -50%) rotate(-90deg)",
        fontFamily: FONT,
        fontSize: 10.3,
        color: INK,
        whiteSpace: "nowrap",
      }}
    >
      Equivalent Ranging ASD [m/√<span style={{ textDecoration: "overline" }}>Hz</span>]
    </div>
  );
}

// ---------- series definitions ----------
const seriesA: Series[] = [
  { key: "a1", color: C_RED, data: aRed, label: <><ErrE /><TT /> = 0,Mean= -4.83m</> },
  { key: "a2", color: C_BLUE, data: aBlue, label: <><ErrE /><TT /> = <TT sub="SR" />,Mean= 2.3e-4m</> },
  { key: "a3", color: C_GREEN, data: aGreen, label: <><ErrE /><TT /> = <TT sub="SR" /> + <TT sub="PM" />,Mean= -5.2e-8m</> },
  { key: "a4", color: C_MAG, data: aMagenta, label: <><ErrE /><TT /> = <TT sub="SR" /> + <TT sub="PM" /> + <TT sub="SM" sup="(N=2)" />,Mean= -1.08e-11m</> },
  { key: "a5", color: C_ORANGE, data: aOrange, label: <><ErrE /><TT /> = <TT sub="SR" /> + <TT sub="PM" /> + <TT sub="SM" sup="(N=40)" />,Mean= -2.46e-12m</> },
  { key: "a6", color: C_BLACK, data: aBlack, label: <><ErrE /><TT /> = <TT sub="SR" /> + <TT sub="PM" /> + <TT sub="SM" sup="(N=40)" /> + <TT sub="SM" />,mean= -2.48e-13m</> },
];
const seriesB: Series[] = [
  { key: "b1", color: C_RED, data: hmRed, label: <><ErrE2 /><TT sub="HM" sup="(N=2)" />,Mean = 5.75e-8m</> },
  { key: "b2", color: C_BLUE, data: bBlue, label: <><ErrE2 /><TT sub="HM" sup="(N=4)" />,Mean = 9.82e-12m</> },
  { key: "b3", color: C_GREEN, data: bGreen, label: <><ErrE2 /><TT sub="HM" sup="(N=8)" />,Mean = 7.85e-13m</> },
  { key: "b4", color: C_MAG, data: bMagenta, label: <><ErrE2 /><TT sub="HM" sup="(N=10)" />,Mean = 3.05e-13m</> },
];
const seriesC: Series[] = [
  { key: "c1", color: C_RED, data: cRed, label: <><ErrE2 /><TT sub="HM" /> = STG(Degree=2),Mean = 5.75e-8m</> },
  { key: "c2", color: C_BLUE, data: cBlue, label: <><ErrE2 /><TT sub="HM" /> = STG(Degree ≤ 4),Mean = -4.29e-11m</> },
  { key: "c3", color: C_GREEN, data: cGreen, label: <><ErrE2 /><TT sub="HM" /> = STG(Degree ≤ 8),Mean = 6.1e-12m</> },
  { key: "c4", color: C_MAG, data: cMagenta, dash: "4 3", label: <><ErrE2 /><TT sub="HM" /> = STG(Degree≤ 20),Mean = -3.55e-12m</> },
  { key: "c5", color: C_ORANGE, data: cOrange, label: <><ErrE2 /><TT sub="HM" /> = STG(Degree≤ 50),Mean = 4.01e-13m</> },
  { key: "c6", color: C_BROWN, data: cBrown, dash: "3 3", label: <><ErrE2 /><TT sub="HM" /> = STG(Degree≤ 90),Mean = 3.79e-14m</> },
];
const seriesD: Series[] = [
  { key: "d1", color: C_RED, data: hmRed, label: <><TT sub="HM" /> = STG(Degree=90),Mean = 5.75e-8m</> },
  { key: "d2", color: C_BLUE, data: dBlue, label: <><TT sub="HM" /> = OT(Degree=90),Mean = -8.52e-14m</> },
  { key: "d3", color: C_GREEN, data: dGreen, label: <><TT sub="HM" /> = PT(Degree=90),Mean = -2.09e-16m</> },
  { key: "d4", color: C_MAG, data: dMagenta, dash: "4 3", label: <><TT sub="HM" /> = AT(Degree=8),Mean = -1.93e-17m</> },
  { key: "d5", color: C_ORANGE, data: dOrange, label: <><TT sub="HM" /> = SET(Degree=4),Mean = -7.54e-14m</> },
  { key: "d6", color: C_BROWN, data: dBrown, dash: "3 3", label: <><TT sub="HM" /> = AOD(Degree=90),Mean = -6.53e-15m</> },
  { key: "d7", color: C_BLACK, data: dBlack, label: <><TT sub="HM" /> = SunMoon,Mean = 3.43e-12m</> },
];

const legendRows = (s: Series[]) => [
  ...s.map((x) => ({ color: x.color, dash: x.dash, label: x.label })),
  { color: C_CYAN, dash: "3 2", label: <GoalLabel /> },
];

export default function App() {
  return (
    <div style={{ position: "absolute", left: 0, top: 0, width: 685, height: 523, background: "#fff", overflow: "hidden" }}>
      <Panel left={0} top={0} width={340} height={260} plot={{ l: 33, t: 5, r: 330, b: 209 }} yExp={[-15, 4]} labelDy={14} series={seriesA} />
      <Panel left={340} top={0} width={345} height={260} plot={{ l: 47, t: 5, r: 338, b: 211 }} yExp={[-13, -4]} labelDy={10} series={seriesB} />
      <Panel left={0} top={260} width={340} height={263} plot={{ l: 33, t: 15, r: 328, b: 220 }} yExp={[-12, -4]} labelDy={11} series={seriesC} />
      <Panel left={340} top={260} width={345} height={263} plot={{ l: 45, t: 15, r: 335, b: 220 }} yExp={[-16, -2]} labelDy={11} series={seriesD} />

      <LegendBox left={128} top={9} rowH={8.8} fontSize={7.7} rows={legendRows(seriesA)} />
      <LegendBox left={510} top={11} rowH={10.8} fontSize={8.3} rows={legendRows(seriesB)} />
      <LegendBox left={129} top={281} rowH={8.8} fontSize={7.3} rows={legendRows(seriesC)} />
      <LegendBox left={507} top={280} rowH={8.9} fontSize={8.1} rows={legendRows(seriesD)} />

      <Txt x={263} y={99} size={8}>ENBW 24.60μHz</Txt>
      <Txt x={673} y={85} size={8} anchor="end">ENBW = 24.60μHz</Txt>
      <Txt x={323} y={367} size={8} anchor="end">ENBW = 24.60μHz</Txt>
      <Txt x={673} y={372} size={8} anchor="end">ENBW = 24.60μHz</Txt>

      <YTitle x={8} y={107} />
      <YTitle x={358} y={108} />
      <YTitle x={7} y={378} />
      <YTitle x={355} y={378} />

      <Txt x={182} y={230} size={10.5} anchor="middle">Fourier Fequency [Hz]</Txt>
      <Txt x={535} y={229} size={10.5} anchor="middle">Fourier Fequency [Hz]</Txt>
      <Txt x={185} y={500} size={10.5} anchor="middle">Fourier Fequency [Hz]</Txt>
      <Txt x={532} y={500} size={10.5} anchor="middle">Fourier Fequency [Hz]</Txt>

      <Txt x={167} y={248} size={11} bold anchor="middle">(a)</Txt>
      <Txt x={525} y={247} size={11} bold anchor="middle">(b)</Txt>
      <Txt x={165} y={517} size={11} bold anchor="middle">(c)</Txt>
      <Txt x={522} y={517} size={11} bold anchor="middle">(d)</Txt>
    </div>
  );
}
